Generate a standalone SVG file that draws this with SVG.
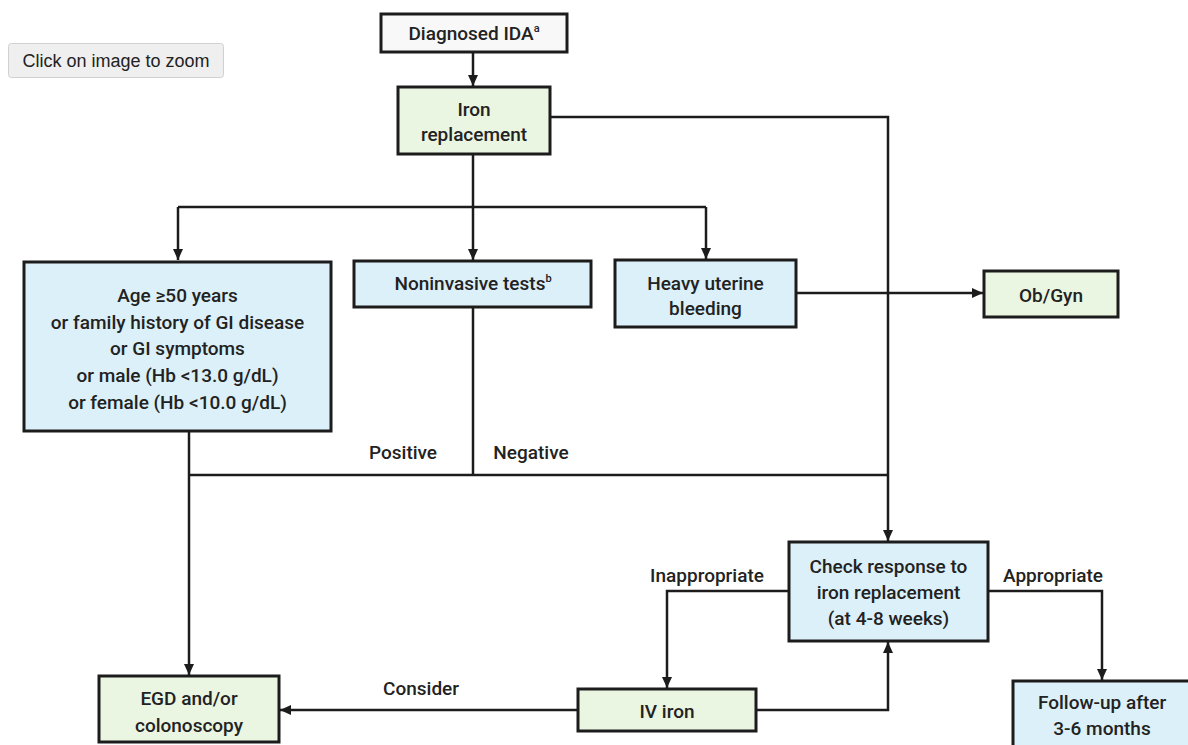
<svg xmlns="http://www.w3.org/2000/svg" width="1188" height="745" viewBox="0 0 1188 745">
<defs>
<style>
.box{stroke:#1c1c1c;stroke-width:3}
.blue{fill:#dcf0f9}
.green{fill:#eaf5e2}
.white{fill:#f8f8f8}
.t{font-family:Roboto,"Liberation Sans",sans-serif;font-weight:500;font-size:19px;fill:#222;text-anchor:middle}
.c{fill:none;stroke:#1c1c1c;stroke-width:2.5}
.sup{font-size:11px}
</style>
<marker id="ah" markerUnits="userSpaceOnUse" markerWidth="12" markerHeight="10" refX="11" refY="5" orient="auto">
<path d="M0,0 L11,5 L0,10 z" fill="#1c1c1c"/>
</marker>
</defs>
<rect width="1188" height="745" fill="#ffffff"/>
<g id="zoom-button">
<rect x="8.5" y="43.5" width="215" height="34" rx="3" fill="#efefef" stroke="#d0d0d0"/>
<text x="116" y="67" font-family="'Liberation Sans',Arial,sans-serif" font-size="18" fill="#222" text-anchor="middle">Click on image to zoom</text>
</g>
<g id="connectors">
<path class="c" d="M473,52 V86" marker-end="url(#ah)"/>
<path class="c" d="M473,154 V260" marker-end="url(#ah)"/>
<path class="c" d="M178,207 H706"/>
<path class="c" d="M178,207 V260" marker-end="url(#ah)"/>
<path class="c" d="M706,207 V259" marker-end="url(#ah)"/>
<path class="c" d="M550,117 H888 V541" marker-end="url(#ah)"/>
<path class="c" d="M796,293 H983" marker-end="url(#ah)"/>
<path class="c" d="M473,307 V475"/>
<path class="c" d="M189,475 H888"/>
<path class="c" d="M189,431 V675" marker-end="url(#ah)"/>
<path class="c" d="M789,591 H667 V688" marker-end="url(#ah)"/>
<path class="c" d="M756,710 H888 V642" marker-end="url(#ah)"/>
<path class="c" d="M988,591 H1102 V680" marker-end="url(#ah)"/>
<path class="c" d="M578,710 H280" marker-end="url(#ah)"/>
<text class="t" x="403" y="459">Positive</text>
<text class="t" x="531" y="459">Negative</text>
<text class="t" x="707" y="582">Inappropriate</text>
<text class="t" x="1053" y="582">Appropriate</text>
<text class="t" x="421" y="695">Consider</text>
</g>
<g id="diagnosed">
<rect class="box white" x="381" y="14" width="186" height="38"/>
<text class="t" x="474" y="40">Diagnosed IDA<tspan class="sup" dy="-8">a</tspan></text>
</g>
<g id="iron-replacement">
<rect class="box green" x="398" y="87" width="152" height="67"/>
<text class="t" x="474" y="116">Iron</text>
<text class="t" x="474" y="141">replacement</text>
</g>
<g id="age">
<rect class="box blue" x="24" y="262" width="307" height="169"/>
<text class="t" x="177.5" y="302">Age ≥50 years</text>
<text class="t" x="177.5" y="329">or family history of GI disease</text>
<text class="t" x="177.5" y="355">or GI symptoms</text>
<text class="t" x="177.5" y="382">or male (Hb &lt;13.0 g/dL)</text>
<text class="t" x="177.5" y="409">or female (Hb &lt;10.0 g/dL)</text>
</g>
<g id="noninvasive">
<rect class="box blue" x="354" y="261" width="237" height="46"/>
<text class="t" x="473" y="290">Noninvasive tests<tspan class="sup" dy="-8">b</tspan></text>
</g>
<g id="heavy">
<rect class="box blue" x="615" y="260" width="181" height="67"/>
<text class="t" x="705.5" y="290">Heavy uterine</text>
<text class="t" x="705.5" y="315">bleeding</text>
</g>
<g id="obgyn">
<rect class="box green" x="984" y="271" width="134" height="46"/>
<text class="t" x="1051" y="302">Ob/Gyn</text>
</g>
<g id="check">
<rect class="box blue" x="789" y="542" width="199" height="99"/>
<text class="t" x="888.5" y="573">Check response to</text>
<text class="t" x="888.5" y="599">iron replacement</text>
<text class="t" x="888.5" y="625">(at 4-8 weeks)</text>
</g>
<g id="iv-iron">
<rect class="box green" x="578" y="689" width="178" height="42"/>
<text class="t" x="667" y="718">IV iron</text>
</g>
<g id="egd">
<rect class="box green" x="99" y="676" width="180" height="66"/>
<text class="t" x="189" y="705">EGD and/or</text>
<text class="t" x="189" y="732">colonoscopy</text>
</g>
<g id="followup">
<rect class="box blue" x="1013" y="681" width="180" height="80"/>
<text class="t" x="1102" y="709">Follow-up after</text>
<text class="t" x="1102" y="735">3-6 months</text>
</g>
</svg>
